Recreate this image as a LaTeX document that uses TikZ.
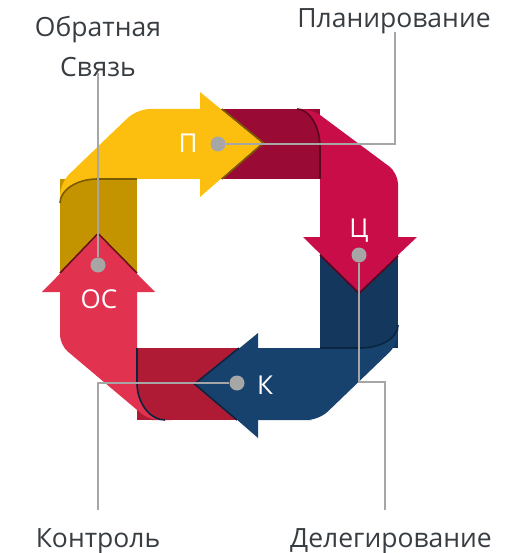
\documentclass[tikz,border=0pt]{standalone}
\usepackage{fontspec}
\setmainfont{Open Sans}
\usepackage{xcolor}
\usetikzlibrary{positioning}

\definecolor{goldL}{HTML}{FDBF0F}
\definecolor{goldD}{HTML}{C49400}
\definecolor{goldS}{HTML}{7A5C00}
\definecolor{crimL}{HTML}{C80D48}
\definecolor{crimD}{HTML}{990A35}
\definecolor{crimS}{HTML}{5C0520}
\definecolor{navyL}{HTML}{18426E}
\definecolor{navyD}{HTML}{13375D}
\definecolor{navyS}{HTML}{0B2440}
\definecolor{redL}{HTML}{E1324F}
\definecolor{redD}{HTML}{AF1B35}
\definecolor{redS}{HTML}{6A0F1F}
\definecolor{leadgray}{HTML}{A6A6A6}
\definecolor{captext}{HTML}{383D42}

\begin{document}
\begin{tikzpicture}[x=1pt, y=-1pt,
    lead/.style={draw=leadgray, line width=2pt},
    dot/.style={circle, fill=leadgray, minimum size=15pt, inner sep=0pt},
    letter/.style={text=white, font=\fontsize{26}{26}\selectfont, anchor=base},
    caption/.style={text=captext, font=\fontsize{26.5}{40}\selectfont, anchor=base, align=center},
    shade/.style={line width=1.6pt}]
    \useasboundingbox (0,0) rectangle (507,553);

    % Dark tails, under the heads
    \fill[goldD] (60,179) rectangle (137,290);
    \fill[crimD] (200,109) rectangle (320,179);
    \fill[navyD] (320,237) rectangle (398,348);
    \fill[redD] (137,348) rectangle (258,420);

    % Yellow arrow
    \fill[goldL] (60,203) -- (60,200) [rounded corners=13pt] -- (60,183) -- (137,109) -- (170,109) [sharp corners] -- (200,109) -- (200,92) -- (262,143) -- (200,197) -- (200,179) -- (97,179) .. controls (77,179) and (60,190) .. (60,203) -- cycle;

    % Crimson arrow
    \fill[crimL] (297,109) -- (299,109) [rounded corners=11pt] -- (312,109) -- (398,173) -- (398,200) [sharp corners] -- (398,237) -- (417,237) -- (359,292) -- (303,237) -- (320,237) -- (320,147) .. controls (320,126) and (309,109) .. (297,109) -- cycle;

    % Navy arrow
    \fill[navyL] (398,325) -- (398,330) [rounded corners=12pt] -- (398,344) -- (319,420) -- (300,420) [sharp corners] -- (258,420) -- (258,438) -- (196,384) -- (258,333) -- (258,348) -- (360,348) .. controls (381,348) and (398,338) .. (398,325) -- cycle;

    % Red arrow
    \fill[redL] (137,383) -- (137,292) -- (155,292) -- (98,235) -- (42,292) -- (60,292) -- (60,330) [rounded corners=10pt] -- (60,345) -- (149,420) -- (162,420) [sharp corners] -- (165,420) .. controls (150,420) and (137,403) .. (137,383) -- cycle;

    % Fold and head shadows
    \draw[goldS, shade] (60,203) .. controls (60,190) and (77,179) .. (97,179) -- (137,179);
    \draw[crimS, shade] (297,109) .. controls (309,109) and (320,126) .. (320,147) -- (320,179);
    \draw[navyS, shade] (398,325) .. controls (398,338) and (381,348) .. (360,348) -- (320,348);
    \draw[navyS, shade] (137,348) -- (137,383) .. controls (137,403) and (150,420) .. (165,420);
    \draw[goldS, shade] (222,109) -- (263.5,143) -- (222,179);
    \draw[crimS, shade] (320,255) -- (359,293.5) -- (398,256);
    \draw[navyS, shade] (239,348) -- (194.5,384) -- (237,420);
    \draw[redS, shade] (60,273) -- (98,233.5) -- (137,273);

    % Letters
    \node[letter] (tagP) at (188,153) {П};
    \node[letter] (tagC) at (359,237) {Ц};
    \node[letter] (tagK) at (265,394) {К};
    \node[letter] (tagO) at (99,308) {ОС};

    % Captions
    \node[caption] (lblP) at (394,28) {Планирование};
    \node[caption] (lblO) at (98,77) {Обратная\\Связь};
    \node[caption] (lblK) at (98,547) {Контроль};
    \node[caption] (lblD) at (391,547) {Делегирование};

    % Leaders
    \node[dot] (dotP) at (218,144) {};
    \node[dot] (dotC) at (359,255) {};
    \node[dot] (dotK) at (237,383) {};
    \node[dot] (dotO) at (98,265) {};
    \coordinate (endP) at (395,32);
    \coordinate (bendD) at (385,382);
    \coordinate (endD) at (385,510);
    \coordinate (endK) at (98,510);
    \coordinate (endO) at (98,73);
    \draw[lead] (dotP) -| (endP);
    \draw[lead] (dotC) |- (bendD) -- (endD);
    \draw[lead] (dotK) -| (endK);
    \draw[lead] (dotO) -- (endO);
\end{tikzpicture}
\end{document}
